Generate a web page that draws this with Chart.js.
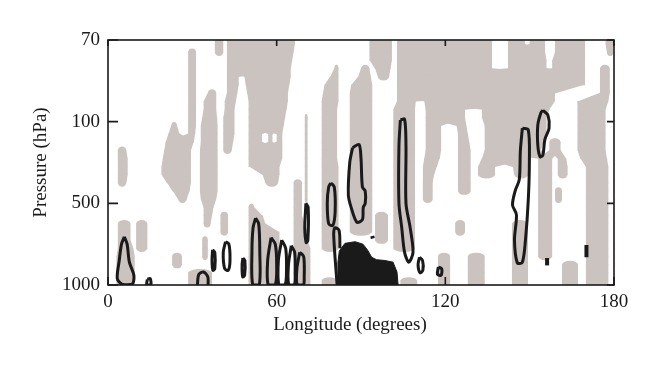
<!DOCTYPE html>
<html>
<head>
<meta charset="utf-8">
<script src="https://cdn.jsdelivr.net/npm/chart.js@4.4.1/dist/chart.umd.min.js"></script>
<style>
  html, body { margin: 0; background: #fff; }
</style>
</head>
<body>
<canvas id="chart" width="660" height="374"></canvas>
<script>
// axes
const lonTicks = [0, 60, 120, 180];
const pressureLabels = ['70', '100', '500', '1000'];   // evenly spaced, top to bottom
const rowStep = 0.1;                                    // height of one shading row, in level units

// grey shading: one entry per row (top -> bottom), each a list of [lonFrom, lonTo]
const greyRows = [
  [[38,41],[42.3,66.5],[93,101],[102.8,136.6],[142.3,148.3],[150,155.5],[159,169.7],[177,179.8]],
  [[28.5,31.3],[38,41],[42.3,66],[93,101],[102.8,136.6],[142.3,155.5],[159,169.7],[177.5,179.8]],
  [[28.5,31.3],[42.3,65.5],[93,101],[102.8,136.6],[142.3,156],[158,169.7]],
  [[28.5,31.3],[42.3,65],[80.5,82],[90,93],[95,100.5],[102.8,136.6],[142.3,156],[158,169.7],[175,178.5]],
  [[28.5,31.3],[42.3,46.5],[48.5,65],[79,82],[89,93.5],[96,100],[102.8,169.7],[175,178.5]],
  [[28.5,31.3],[42.3,46.5],[49,64.5],[77,82],[86.5,94],[102.8,169.7],[175,178.5]],
  [[28.5,31.3],[35.5,38.5],[42.3,46],[49.5,64],[76.5,82],[86,94],[102.8,159],[175,178.5]],
  [[28.5,31.3],[34,38.5],[41.5,45.5],[50,64],[76,82],[86,94],[102.8,109.5],[112.5,159],[167,178]],
  [[28.5,31.3],[34,38.5],[41.5,45],[50,63.5],[76,81.5],[86,94],[101.5,109.2],[113,127],[133,157],[167,177]],
  [[28.5,31.3],[33.5,38.8],[41,45],[50,63],[70,71],[76,81.5],[86,94],[101.5,109.2],[113,127],[133,156],[167,177]],
  [[22.5,24.5],[28.5,31.3],[33,39],[41,45],[50,62.5],[70,71],[76,81.5],[86,94],[101.5,109.2],[113,118.5],[124,127.5],[134,156],[167,177]],
  [[21.5,25.5],[28.5,31],[33,39],[41,45],[50,54.8],[57,58.5],[60,62],[70,71],[76,81.5],[86,94],[101.5,109.2],[113,118.5],[124.5,128],[134,156],[167,177]],
  [[20.5,30.5],[33,39],[41,44.5],[50,54.8],[57,58.5],[60,62],[70,71],[76,81.5],[86,94],[101.5,109.2],[113,118.5],[124.5,128.5],[134,155],[157,161],[167,177]],
  [[3.5,6.5],[20,29.5],[32.7,39],[41,44],[50,62],[70,71],[76,81.5],[86,94],[101.5,109.2],[113,118.5],[124.5,129],[134,154],[157,161],[167,177]],
  [[3.5,7],[19.5,29.5],[32.7,39],[50,62],[70,71],[76,81.5],[86,94],[101.5,109.2],[112.5,118],[124.5,129],[133,150],[153,158],[160,163],[168,177.5]],
  [[3.5,7],[19,29.5],[32.7,39],[50,61],[70,71],[76,82],[86,94],[101.5,109.2],[112,117],[124.5,129],[131.6,137.7],[144,150],[153,158],[160,163.5],[170,178]],
  [[3.5,7],[19,29.5],[32.7,39],[55,61],[70,71],[76,82],[86,94],[101.5,109.2],[112,116],[124.5,129],[131.6,137.7],[144.5,149.5],[153,158],[160,163.5],[170,178]],
  [[3.5,6.5],[21,29.5],[32.7,39],[56,60.5],[66,69],[70,71],[76,82],[86,94],[101.5,109.2],[112,115.5],[124.5,129],[153,158],[170,178]],
  [[23,29],[32.7,39],[66,69],[70,71],[76,82],[86,94],[101.5,109.2],[112,115.5],[124.5,129],[153,158],[159,161.5],[170,178]],
  [[25,28],[33,38.5],[66,69],[70,71],[76,82],[86,94],[101.5,109.2],[112,115.5],[153,158],[159,161.5],[170,178]],
  [[34,37.5],[50,52],[66,69],[76,82],[86,94],[101.5,109.2],[153,158],[170,178]],
  [[34,37],[40,42.7],[50,55],[66,69],[76,82],[86,94],[95,99.6],[101.5,109.2],[153,158],[170,178]],
  [[3.5,8],[10,14],[34,36.5],[40,42.7],[50,56],[66,70],[76,82],[86,94],[95,99.6],[101.5,109.2],[123.5,127],[143.7,149.4],[153,158],[170,178]],
  [[3.5,8],[10,14],[40,42.7],[50,61],[66,71],[76,82],[86,94],[95,99.6],[101.5,109.2],[123.5,127],[143.7,149.4],[153,158],[170,178]],
  [[3.5,8],[10,14],[33.5,35.5],[50,61],[66,71],[76,82],[95,99.6],[101.5,109.2],[143.7,149.4],[153,158],[170,178]],
  [[3.5,9],[10,14],[33.5,35.5],[50,61],[66,72],[76,82],[101.5,109.2],[143.7,149.4],[153,158],[170,178]],
  [[3,9.5],[22.8,26.3],[33.5,35.5],[50,61],[66,72],[117.4,121.7],[128,134],[143.7,149.4],[153,158],[170,178]],
  [[3,9.5],[22.8,26.3],[50,61],[66,72],[117.4,121.7],[128,134],[143.7,149.4],[161.5,167.2],[170,178]],
  [[3,9.5],[28.5,37],[50,61],[66,72],[117.4,121.7],[128,134],[143.7,149.4],[161.5,167.2],[170,178]],
  [[3,9.5],[28.5,37],[50,61],[66,72],[76,81.5],[104,110],[117.4,121.7],[128,134],[143.7,149.4],[161.5,167.2],[170,178]]
];

// black contour loops, [lon, level]
const contours = [
  [[5.8,2.41],[6.8,2.5],[7.6,2.72],[9.2,2.88],[8.6,2.99],[5,2.99],[3.3,2.92],[4,2.7],[4.8,2.5],[5.8,2.41]],
  [[14,2.93],[15,2.92],[15.2,3],[13.8,3],[14,2.93]],
  [[31.8,3],[32.3,2.87],[34,2.84],[35.5,2.9],[35.6,3]],
  [[37.2,2.57],[38,2.6],[38,2.8],[37.3,2.82],[37,2.7],[37.2,2.57]],
  [[41.8,2.47],[43,2.5],[43.4,2.7],[42.8,2.82],[41.5,2.8],[41,2.6],[41.8,2.47]],
  [[48,2.67],[48.7,2.7],[48.6,2.88],[47.9,2.9],[47.7,2.75],[48,2.67]],
  [[52.5,2.18],[53.6,2.25],[54,2.6],[53.8,3],[51.5,3],[51.2,2.6],[51.6,2.3],[52.5,2.18]],
  [[58,2.42],[59.5,2.5],[60,2.75],[59.5,3],[57,3],[56.8,2.7],[58,2.42]],
  [[61.8,2.45],[63.2,2.55],[63.5,2.8],[63,3],[60.8,3],[60.6,2.7],[61.8,2.45]],
  [[65.2,2.52],[66.4,2.6],[66.6,2.85],[66.3,3],[64.3,3],[64.2,2.75],[65.2,2.52]],
  [[68.2,2.6],[69.6,2.65],[69.8,2.9],[69.5,3],[67.3,3],[67.2,2.8],[68.2,2.6]],
  [[70.4,2.0],[71.2,2.05],[71.1,2.45],[70.5,2.48],[70,2.3],[70.4,2.0]],
  [[79.3,1.75],[80.5,1.8],[80.8,2.1],[80,2.27],[78.5,2.25],[78,2.0],[78.5,1.8],[79.3,1.75]],
  [[87,1.32],[89.3,1.28],[90,1.45],[90.5,1.8],[91.5,1.85],[91.5,2.0],[90.8,2.05],[90.5,2.2],[88.5,2.23],[86.5,2.05],[85.5,1.9],[86,1.5],[87,1.32]],
  [[104,0.98],[105.5,0.97],[106,1.3],[106,2.0],[107.5,2.3],[108.5,2.6],[107,2.72],[105.5,2.6],[104.5,2.3],[103.5,2.0],[103.5,1.3],[104,0.98]],
  [[81.5,3],[80.3,2.4],[80.7,2.3],[82.2,2.33],[82.5,2.55]],
  [[110.8,2.66],[111.9,2.7],[112,2.82],[111,2.85],[110.3,2.75],[110.8,2.66]],
  [[117.5,2.78],[118.7,2.8],[118.5,2.88],[117.2,2.87],[117.5,2.78]],
  [[147.4,1.08],[149.5,1.1],[149.9,1.47],[149.5,1.96],[148.5,2.45],[147.4,2.72],[145.6,2.73],[144.6,2.45],[145.3,2.14],[143.9,2.02],[144.9,1.84],[146.3,1.71],[146.7,1.35],[147.4,1.08]],
  [[154.7,0.86],[156.5,0.92],[156.9,1.08],[155.4,1.22],[154.7,1.41],[153.7,1.43],[152.9,1.29],[152.9,1.04],[154,0.89],[154.7,0.86]],
  [[156.2,2.67],[156.2,2.76]],
  [[170.2,2.51],[170.2,2.66]],
  [[94,2.4],[94.2,2.43]]
];

// solid black patch at the bottom, [lon, level]
const blackPatch = [[81.5,3],[81.8,2.72],[82.3,2.58],[84.3,2.49],[87.9,2.47],[90.7,2.5],[92.3,2.57],[93.8,2.66],[95.5,2.69],[98.5,2.7],[101.4,2.72],[102.8,2.84],[103.2,3],[81.5,3]];

const ink = '#1a1a1a';
const serif = "'Liberation Serif', 'DejaVu Serif', serif";

function overlaps(a, b) { return a[0] < b[1] && b[0] < a[1]; }

// grey runs joined row to row so the patches get sloped edges instead of steps
const shadePlugin = {
  id: 'shade',
  beforeDatasetsDraw(chart) {
    const { ctx, chartArea: a, scales: { x, y } } = chart;
    const px = v => x.getPixelForValue(v);
    const mid = j => y.getPixelForValue((j + 0.5) * rowStep);
    const half = (y.getPixelForValue(rowStep) - y.getPixelForValue(0)) / 2;
    const last = greyRows.length - 1;
    ctx.save();
    ctx.beginPath();
    ctx.rect(a.left, a.top, a.width, a.height);
    ctx.clip();
    ctx.fillStyle = '#cac3bf';
    greyRows.forEach((runs, j) => {
      const c = mid(j);
      runs.forEach(r => {
        const xl = px(r[0]), xr = px(r[1]);
        // upper end
        if (j === 0) {
          ctx.fillRect(xl, a.top, xr - xl, c - a.top + 0.5);
        } else if (!greyRows[j - 1].some(s => overlaps(r, s))) {
          ctx.beginPath();
          ctx.ellipse((xl + xr) / 2, c + 0.3, (xr - xl) / 2, half, 0, Math.PI, 2 * Math.PI);
          ctx.closePath();
          ctx.fill();
        }
        // lower end / link to the next row
        if (j === last) {
          ctx.fillRect(xl, c - 0.5, xr - xl, a.bottom - c + 0.5);
          return;
        }
        const next = greyRows[j + 1].filter(s => overlaps(r, s));
        if (!next.length) {
          ctx.beginPath();
          ctx.ellipse((xl + xr) / 2, c - 0.3, (xr - xl) / 2, half, 0, 0, Math.PI);
          ctx.closePath();
          ctx.fill();
        }
        const c2 = mid(j + 1);
        next.forEach(s => {
          ctx.beginPath();
          ctx.moveTo(xl, c - 0.3);
          ctx.lineTo(xr, c - 0.3);
          ctx.lineTo(px(s[1]), c2 + 0.3);
          ctx.lineTo(px(s[0]), c2 + 0.3);
          ctx.closePath();
          ctx.fill();
        });
      });
    });
    ctx.restore();
  }
};

// box round the plot with inward ticks on all four sides, and the x title
const framePlugin = {
  id: 'frame',
  afterDatasetsDraw(chart) {
    const { ctx, chartArea: a, scales: { x, y } } = chart;
    ctx.save();
    ctx.strokeStyle = ink;
    ctx.lineWidth = 1.6;
    ctx.strokeRect(a.left, a.top, a.width, a.height);
    ctx.beginPath();
    lonTicks.forEach(v => {
      const p = x.getPixelForValue(v);
      ctx.moveTo(p, a.bottom); ctx.lineTo(p, a.bottom - 8);
      ctx.moveTo(p, a.top); ctx.lineTo(p, a.top + 6);
    });
    pressureLabels.forEach((_, i) => {
      const p = y.getPixelForValue(i);
      ctx.moveTo(a.left, p); ctx.lineTo(a.left + 10, p);
      ctx.moveTo(a.right, p); ctx.lineTo(a.right - 7, p);
    });
    ctx.stroke();
    ctx.fillStyle = ink;
    ctx.font = '19px ' + serif;
    ctx.textAlign = 'center';
    ctx.textBaseline = 'middle';
    ctx.fillText('Longitude (degrees)', 350, 325);
    ctx.restore();
  }
};

const datasets = [{
  data: blackPatch.map(([lon, lev]) => ({ x: lon, y: lev })),
  showLine: true,
  fill: 'shape',
  backgroundColor: ink,
  borderColor: ink,
  borderWidth: 1,
  pointRadius: 0
}].concat(contours.map(loop => ({
  data: loop.map(([lon, lev]) => ({ x: lon, y: lev })),
  showLine: true,
  fill: false,
  borderColor: ink,
  borderWidth: loop.length <= 2 ? 4 : 3,
  tension: 0.3,
  pointRadius: 0
})));

new Chart(document.getElementById('chart'), {
  type: 'scatter',
  data: { datasets },
  options: {
    responsive: false,
    animation: false,
    layout: { padding: { top: 40, right: 46, bottom: 0, left: 0 } },
    plugins: { legend: { display: false }, tooltip: { enabled: false } },
    scales: {
      x: {
        type: 'linear', min: 0, max: 180,
        afterBuildTicks: s => { s.ticks = lonTicks.map(v => ({ value: v })); },
        afterFit: s => { s.height = 89; },
        grid: { display: false, drawTicks: false },
        border: { display: false },
        ticks: { color: ink, padding: 6, font: { family: serif, size: 19 } }
      },
      y: {
        type: 'linear', min: 0, max: 3, reverse: true,
        afterBuildTicks: s => { s.ticks = pressureLabels.map((_, i) => ({ value: i })); },
        afterFit: s => { s.width = 108; },
        grid: { display: false, drawTicks: false },
        border: { display: false },
        ticks: { color: ink, padding: 8, font: { family: serif, size: 19 },
                 callback: v => pressureLabels[v] },
        title: { display: true, text: 'Pressure (hPa)', color: ink,
                 padding: { top: 30, bottom: 0 }, font: { family: serif, size: 19 } }
      }
    }
  },
  plugins: [shadePlugin, framePlugin]
});
</script>
</body>
</html>
